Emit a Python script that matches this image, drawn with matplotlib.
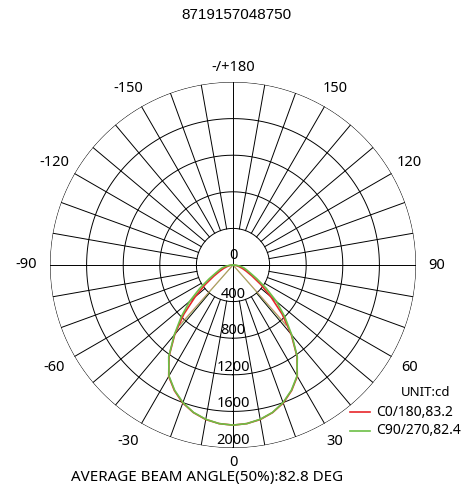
import numpy as np
import matplotlib
matplotlib.use("Agg")
import matplotlib.pyplot as plt
from matplotlib.lines import Line2D
from matplotlib.transforms import ScaledTranslation

# luminous intensity (cd) per gamma angle, half plane, mirrored for the other half
gamma = [0, 5, 10, 15, 20, 25, 30, 35, 40, 45, 50, 55, 60, 65, 70, 75, 80, 85, 90]
c0_180 = [1750, 1740, 1715, 1670, 1605, 1515, 1405, 1220, 990, 760, 540, 370,
          240, 160, 110, 70, 40, 15, 0]
c90_270 = [1750, 1740, 1712, 1668, 1600, 1510, 1400, 1225, 1000, 800, 620, 440,
           300, 210, 160, 125, 85, 40, 0]
beam_angles = [83.2, 82.4]
series_names = ["C0/180", "C90/270"]
series_colors = ["#e8262a", "#6cbf45"]

ring_values = [400, 800, 1200, 1600, 2000]
angle_labels = {0: "0", 30: "30", 60: "60", 90: "90", 120: "120", 150: "150",
                180: "-/+180", 210: "-150", 240: "-120", 270: "-90", 300: "-60", 330: "-30"}

title = "8719157048750"
footer = "AVERAGE BEAM ANGLE(50%):82.8 DEG"

W, H = 473, 491
fig = plt.figure(figsize=(W / 100, H / 100), dpi=100)
cx, cy, R = 233, 265, 183
ax = fig.add_axes([(cx - R) / W, (H - cy - R) / H, 2 * R / W, 2 * R / H], projection="polar")
ax.set_theta_zero_location("S")
ax.set_theta_direction(1)
ax.set_ylim(0, 2000)
ax.set_axis_off()

lab_font = "Noto Sans"
grid_kw = dict(color="black", lw=0.7, zorder=1)
renderer = fig.canvas.get_renderer()

# rings
t = np.linspace(0, 2 * np.pi, 361)
for r in ring_values:
    ax.plot(t, np.full_like(t, r), **grid_kw)

# spokes
for a in range(0, 360, 10):
    r0 = 0 if a % 90 == 0 else ring_values[0]
    ax.plot([np.radians(a)] * 2, [r0, 2000], **grid_kw)

# radial labels
ax.text(0, 0, "0", ha="center", va="bottom", fontsize=10.5, family=lab_font,
        transform=ax.transData + ScaledTranslation(0, 2 / 100, fig.dpi_scale_trans))
for r in ring_values:
    ax.text(0, r, str(r), ha="center", va="bottom", fontsize=10.5, family=lab_font)

# angle labels; for negative ones the digits stay centred and the minus sticks out left
for a, s in angle_labels.items():
    th = np.radians(a)
    lr = 2160 if a in (0, 180) else 2230
    if s.startswith("-") and s[1:].isdigit():
        tmp = ax.text(0, 0, s[1:], fontsize=10.5, family=lab_font)
        w = tmp.get_window_extent(renderer).width
        tmp.remove()
        ax.text(th, lr, s, ha="right", va="center", fontsize=10.5, family=lab_font,
                transform=ax.transData + ScaledTranslation(w / 2 / 100, 0, fig.dpi_scale_trans))
    else:
        ax.text(th, lr, s, ha="center", va="center", fontsize=10.5, family=lab_font)

# curves
g = np.array(gamma, dtype=float)
for vals, color in zip([c0_180, c90_270], series_colors):
    v = np.array(vals, dtype=float)
    theta = np.radians(np.concatenate([-g[::-1], g[1:]]))
    rr = np.concatenate([v[::-1], v[1:]])
    ax.plot(theta, rr, color=color, lw=1.2, zorder=3)

# beam angle lines
for vals, ba, color in zip([c0_180, c90_270], beam_angles, series_colors):
    half = vals[0] * 0.5
    for s in (-1, 1):
        ax.plot([0, s * np.radians(ba / 2)], [0, half], color=color, lw=0.8, alpha=0.6, zorder=2)

fig.text(236 / W, 1 - 15 / H, title, ha="center", va="center", fontsize=11, family="Liberation Sans")
fig.text(207 / W, 1 - 477 / H, footer, ha="center", va="center", fontsize=10.9, family=lab_font)

# legend
fig.text(426 / W, 1 - 392 / H, "UNIT:cd", ha="center", va="center", fontsize=9.5,
         family=lab_font, weight="bold")
for i, (name, ba, color) in enumerate(zip(series_names, beam_angles, series_colors)):
    y = 1 - (412 + 19 * i) / H
    fig.add_artist(Line2D([350 / W, 370 / W], [y, y], color=color, lw=1.2))
    fig.text(376 / W, y, f"{name},{ba}", ha="left", va="center", fontsize=10, family=lab_font)

fig.savefig("out.png", dpi=100)
